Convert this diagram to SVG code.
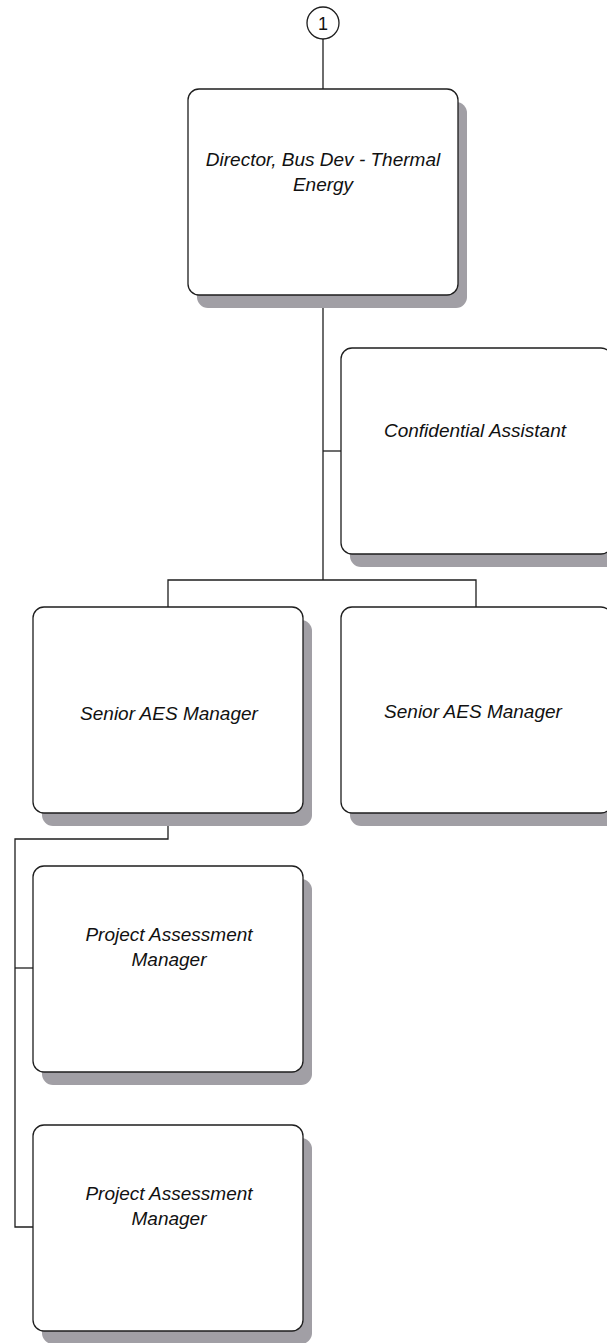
<svg xmlns="http://www.w3.org/2000/svg" width="607" height="1343" viewBox="0 0 607 1343">
  <style>
    .shadow { fill: #a19fa5; stroke: none; }
    .box { fill: #ffffff; stroke: #1e1e1e; stroke-width: 1.3; }
    .lbl { font-family: "Liberation Sans", Arial, sans-serif; font-style: italic; font-size: 19px; fill: #111; text-anchor: middle; }
    .wire { fill: none; stroke: #1e1e1e; stroke-width: 1.3; }
    .ref { fill: #ffffff; stroke: #1e1e1e; stroke-width: 1.3; }
    .refnum { font-family: "Liberation Sans", Arial, sans-serif; font-size: 18px; fill: #111; text-anchor: middle; }
  </style>

  <!-- connectors -->
  <g id="connectors">
    <path class="wire" d="M323,39 V89"/>
    <path class="wire" d="M323,295 V580"/>
    <path class="wire" d="M323,451 H341"/>
    <path class="wire" d="M168,607 V580 H476 V607"/>
    <path class="wire" d="M168,812 V839 H15 V1227 H33"/>
    <path class="wire" d="M15,968 H33"/>
  </g>

  <!-- off-page reference -->
  <g id="ref1">
    <circle class="ref" cx="323" cy="23" r="16"/>
    <text class="refnum" x="323" y="29.5">1</text>
  </g>

  <g id="director">
    <rect class="shadow" x="197" y="102" width="270" height="206" rx="11"/>
    <rect class="box" x="188" y="89" width="270" height="206" rx="11"/>
    <text class="lbl" x="323" y="166">Director, Bus Dev - Thermal</text>
    <text class="lbl" x="323" y="191">Energy</text>
  </g>

  <g id="assistant">
    <rect class="shadow" x="350" y="361" width="271" height="206" rx="11"/>
    <rect class="box" x="341" y="348" width="271" height="206" rx="11"/>
    <text class="lbl" x="475" y="437">Confidential Assistant</text>
  </g>

  <g id="senior-aes-1">
    <rect class="shadow" x="42" y="620" width="270" height="206" rx="11"/>
    <rect class="box" x="33" y="607" width="270" height="206" rx="11"/>
    <text class="lbl" x="169" y="720">Senior AES Manager</text>
  </g>

  <g id="senior-aes-2">
    <rect class="shadow" x="350" y="620" width="271" height="206" rx="11"/>
    <rect class="box" x="341" y="607" width="271" height="206" rx="11"/>
    <text class="lbl" x="473" y="718">Senior AES Manager</text>
  </g>

  <g id="pam-1">
    <rect class="shadow" x="42" y="879" width="270" height="206" rx="11"/>
    <rect class="box" x="33" y="866" width="270" height="206" rx="11"/>
    <text class="lbl" x="169" y="941">Project Assessment</text>
    <text class="lbl" x="169" y="966">Manager</text>
  </g>

  <g id="pam-2">
    <rect class="shadow" x="42" y="1138" width="270" height="206" rx="11"/>
    <rect class="box" x="33" y="1125" width="270" height="206" rx="11"/>
    <text class="lbl" x="169" y="1200">Project Assessment</text>
    <text class="lbl" x="169" y="1225">Manager</text>
  </g>
</svg>
